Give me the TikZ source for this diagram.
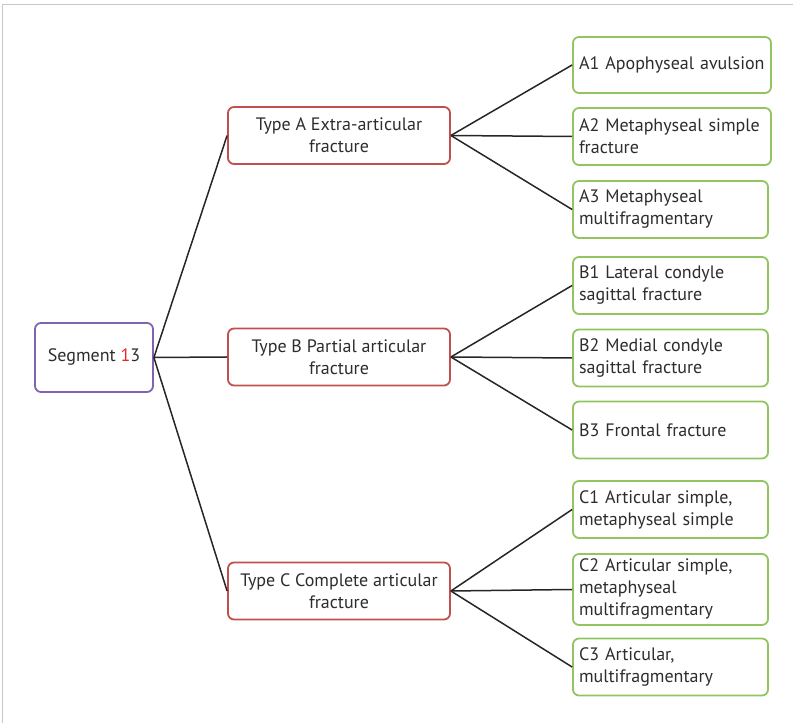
\documentclass[tikz,border=0pt]{standalone}
\usepackage{fontspec}
\setmainfont{PT Sans}
\definecolor{txt}{RGB}{45,45,45}
\definecolor{rootc}{RGB}{128,100,180}
\definecolor{typec}{RGB}{192,80,77}
\definecolor{leafc}{RGB}{146,196,96}
\definecolor{framec}{RGB}{200,200,200}
\definecolor{hl}{RGB}{230,40,40}
\begin{document}
\begin{tikzpicture}[x=1pt,y=1pt,
  box/.style={draw, line width=1.8pt, rounded corners=6pt, fill=white,
    text=txt, font=\fontsize{18}{22}\selectfont, inner sep=0pt},
  rootbox/.style={box, draw=rootc, minimum width=118pt, minimum height=69pt},
  typebox/.style={box, draw=typec, minimum width=222pt, minimum height=57pt,
    align=center},
  leafbox/.style={box, draw=leafc, minimum height=57pt, align=left,
    text width=#1-12pt, minimum width=#1},
  link/.style={draw=black!85, line width=1.5pt}]
\useasboundingbox (0,0) rectangle (793,723);
% thin outer frame (top and left)
\draw[framec, line width=1pt] (793,718) -- (2,718) -- (2,0);

\node[rootbox] (seg) at (94,365.5) {Segment \textcolor{hl}{1}3};

\node[typebox] (ta) at (339,587.5) {Type A Extra-articular\\fracture};
\node[typebox] (tb) at (339,366) {Type B Partial articular\\fracture};
\node[typebox] (tc) at (339,132) {Type C Complete articular\\fracture};

\node[leafbox=198pt, minimum height=56pt] (a1) at (672,658) {\mbox{A1 Apophyseal avulsion}};
\node[leafbox=198pt] (a2) at (672,586.5) {A2 Metaphyseal simple\\fracture};
\node[leafbox=195pt] (a3) at (670.5,513.5) {A3 Metaphyseal\\multifragmentary};
\node[leafbox=195pt] (b1) at (670.5,437.5) {B1 Lateral condyle\\sagittal fracture};
\node[leafbox=195pt] (b2) at (670.5,365) {B2 Medial condyle\\sagittal fracture};
\node[leafbox=195pt] (b3) at (670.5,293) {B3 Frontal fracture};
\node[leafbox=195pt] (c1) at (670.5,213.5) {C1 Articular simple,\\metaphyseal simple};
\node[leafbox=195pt, minimum height=71pt] (c2) at (670.5,133.5) {C2 Articular simple,\\metaphyseal\\multifragmentary};
\node[leafbox=195pt] (c3) at (670.5,56) {C3 Articular,\\multifragmentary};

\foreach \t in {ta,tb,tc} \draw[link] (seg.east) -- (\t.west);
\foreach \l in {a1,a2,a3} \draw[link] (ta.east) -- (\l.west);
\foreach \l in {b1,b2,b3} \draw[link] (tb.east) -- (\l.west);
\foreach \l in {c1,c2,c3} \draw[link] (tc.east) -- (\l.west);
\end{tikzpicture}
\end{document}
